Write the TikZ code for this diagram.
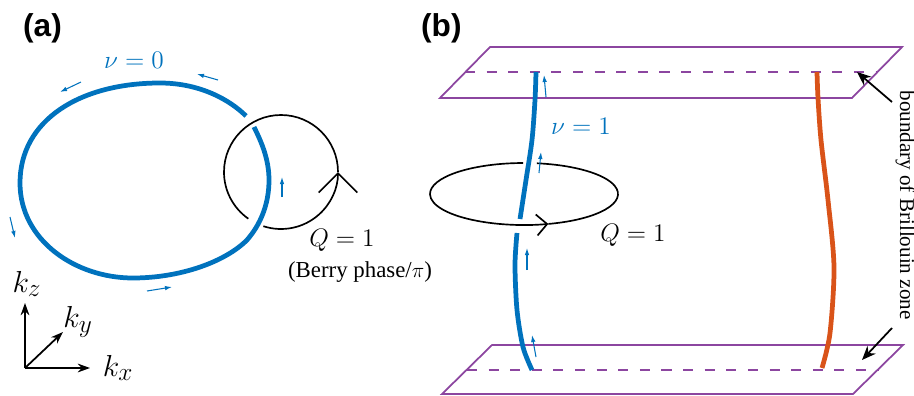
\documentclass[tikz,border=0pt]{standalone}
\usepackage[no-math]{fontspec}
\setmainfont{Liberation Serif}
\newfontfamily\panelfont{Liberation Sans}
\usetikzlibrary{arrows.meta}
\definecolor{nodalBlue}{RGB}{0,114,189}
\definecolor{nodalOrange}{RGB}{217,83,25}
\definecolor{zonePurple}{RGB}{140,70,160}

\begin{document}
\begin{tikzpicture}[x=0.02cm,y=-0.02cm,
    nodal/.style={line width=2.7pt},
    flow/.style={nodalBlue,line width=0.6pt,-{Latex[length=4pt,width=2.6pt]}},
    zone/.style={zonePurple,line width=1pt},
    zonecut/.style={zonePurple,line width=1.6pt,dash pattern=on 5.7pt off 6.6pt},
    loopline/.style={line width=0.95pt},
    axis/.style={line width=1pt,-{Stealth[length=7pt,width=5pt]}},
    pointer/.style={line width=1pt,-{Stealth[length=8pt,width=6.5pt]}},
    bigmath/.style={font=\fontsize{15.5}{18}\selectfont},
    panel/.style={font=\panelfont\bfseries\fontsize{18}{20}\selectfont,anchor=west}]
    \useasboundingbox (0,0) rectangle (914,396);
    % (a) nodal loop
    \node[panel] (panelA) at (17,28) {(a)};
    \draw[nodal,nodalBlue] (254,127) .. controls (262,143) and (269,160) .. (269,180)
      .. controls (269,205) and (260,225) .. (247,240)
      .. controls (225,262) and (180,278) .. (133,278)
      .. controls (75,278) and (20,240) .. (20,183)
      .. controls (20,120) and (80,83) .. (160,83)
      .. controls (200,83) and (230,100) .. (246,116);
    \coordinate (berryC) at (281,172);
    \draw[loopline,-{Straight Barb[length=11pt,width=22pt]}] (berryC) ++(108:57)
      arc[start angle=468,end angle=360,radius=57];
    \draw[loopline] (berryC) ++(0:57) arc[start angle=360,end angle=125,radius=57];
    \foreach \xa/\ya/\xb/\yb in {81/82/60/92,218/80/197/74,10/217/15/238,
                                 147/291/172/287,282/197/282/177}
      {\draw[flow] (\xa,\ya) -- (\xb,\yb);}
    \node[bigmath,text=nodalBlue] (nuZero) at (134,60) {$\nu=0$};
    \node[bigmath] (chargeA) at (342,240) {$Q=1$};
    \node[font=\fontsize{13}{15}\selectfont] (berryText) at (360,272) {(Berry phase/$\pi$)};
    % axes
    \coordinate (origin) at (25,368);
    \coordinate (kzEnd) at (25,303);
    \coordinate (kyEnd) at (63,332);
    \coordinate (kxEnd) at (90,368);
    \draw[axis] (origin) -- (kzEnd);
    \draw[axis] (origin) -- (kyEnd);
    \draw[axis] (origin) -- (kxEnd);
    \node[font=\fontsize{19}{22}\selectfont] (kzLabel) at (27,284) {$k_z$};
    \node[font=\fontsize{19}{22}\selectfont] (kyLabel) at (78,322) {$k_y$};
    \node[font=\fontsize{19}{22}\selectfont] (kxLabel) at (118,368) {$k_x$};
    % (b) Brillouin zone
    \node[panel] (panelB) at (415,28) {(b)};
    \draw[zone] (440,98) -- (852,98) -- (902,47) -- (490,47) -- cycle;
    \draw[zonecut] (465,72) -- (877,72);
    \draw[zone] (442,394) -- (853,394) -- (903,345) -- (492,345) -- cycle;
    \draw[zonecut] (467,370) -- (878,370);
    \draw[nodal,nodalBlue] plot[smooth] coordinates {(536,72) (535,100) (532,140) (526,180) (520,219)};
    \draw[nodal,nodalBlue] plot[smooth] coordinates {(517,233) (515,265) (517,310) (523,347) (532,370)};
    \draw[nodal,nodalOrange] plot[smooth] coordinates {(817,72) (818,98) (821,140) (828,200)
      (834,267) (830,333) (822,368)};
    \coordinate (linkC) at (524,194);
    \draw[loopline,-{Straight Barb[length=6pt,width=12pt]}] (linkC) ++(269.4:94 and 31)
      arc[start angle=629.4,end angle=435,x radius=94,y radius=31];
    \draw[loopline] (linkC) ++(75:94 and 31) arc[start angle=435,end angle=277.9,x radius=94,y radius=31];
    \foreach \xa/\ya/\xb/\yb in {546/97/544/75,539/173/541/152,527/270/527/248,536/357/532/335}
      {\draw[flow] (\xa,\ya) -- (\xb,\yb);}
    \node[bigmath,text=nodalBlue] (nuOne) at (581,126) {$\nu=1$};
    \node[bigmath] (chargeB) at (633,235) {$Q=1$};
    \node[font=\fontsize{12}{14}\selectfont,rotate=-90,anchor=base] (zoneText) at (900,205)
      {boundary of Brillouin zone};
    \coordinate (topTail) at (892,102);
    \coordinate (topTip) at (857,72);
    \coordinate (bottomTail) at (892,328);
    \coordinate (bottomTip) at (862,360);
    \draw[pointer] (topTail) -- (topTip);
    \draw[pointer] (bottomTail) -- (bottomTip);
\end{tikzpicture}
\end{document}
